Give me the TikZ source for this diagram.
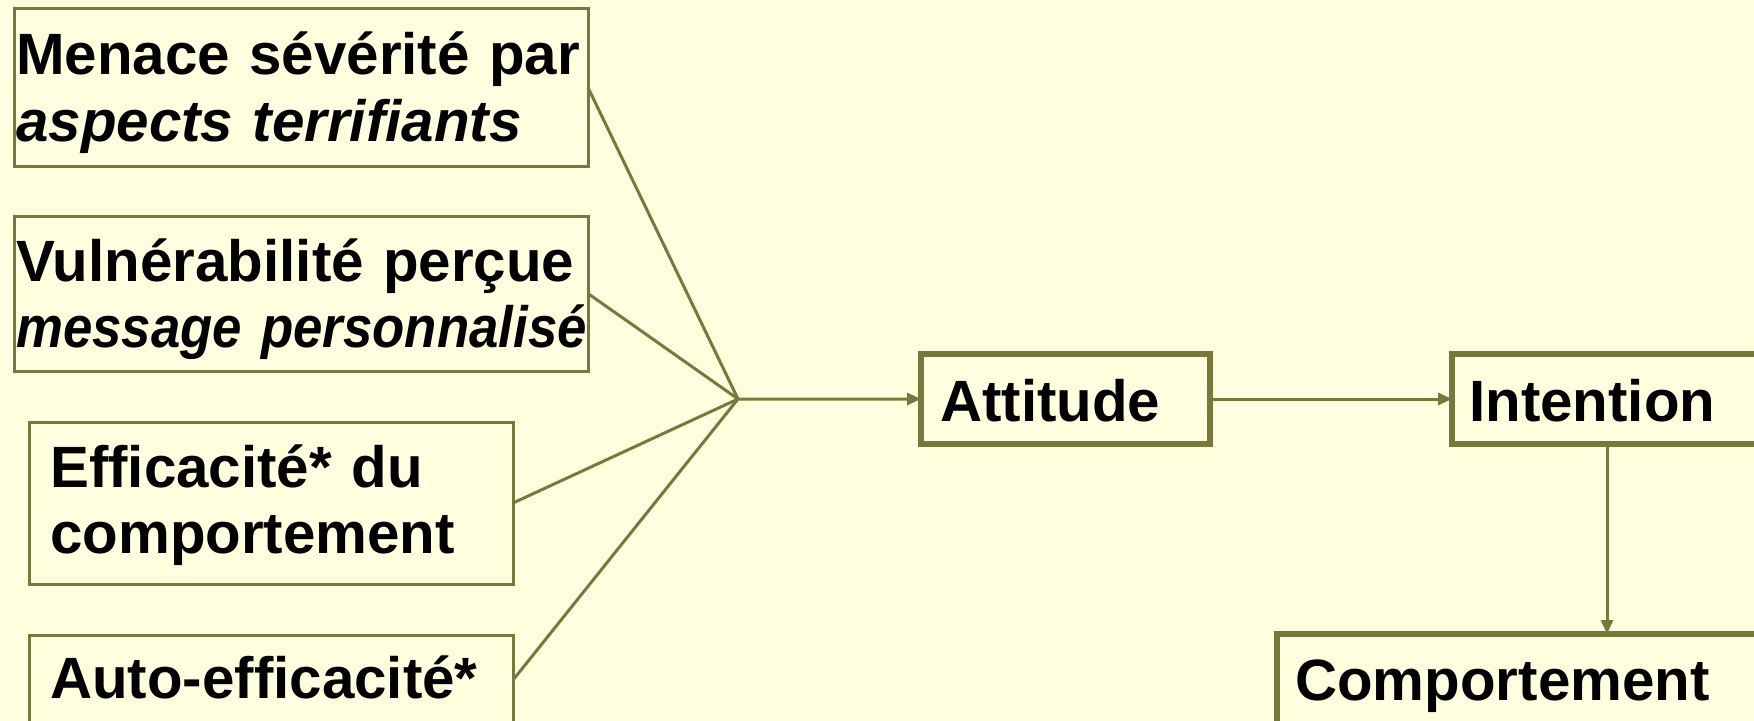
\documentclass[tikz,border=0pt]{standalone}
\usepackage{fontspec}
\setmainfont{Liberation Sans}
\usetikzlibrary{arrows.meta}
\definecolor{bg}{RGB}{255,255,224}
\definecolor{olive}{RGB}{120,120,60}
\tikzset{
  thinbox/.style={draw=olive, line width=3bp, rectangle, inner sep=0pt, outer sep=0pt, anchor=north west},
  thickbox/.style={draw=olive, line width=6bp, rectangle, inner sep=0pt, outer sep=0pt, anchor=north west},
  txt/.style={inner sep=0pt, anchor=base west, align=left, text width=700bp,
    font=\bfseries\fontsize{58.5}{67}\selectfont},
  conn/.style={draw=olive, line width=3bp},
  arr/.style={conn, -{Triangle[length=14bp,width=12bp]}}
}
\begin{document}
\begin{tikzpicture}[x=1bp,y=-1bp]
\fill[bg] (0,0) rectangle (1754,721);
\useasboundingbox (0,0) rectangle (1754,721);
\clip (0,0) rectangle (1754,721);
% left boxes
\node[thinbox, minimum width=574bp, minimum height=157bp] (menace) at (14,9) {};
\node[txt] (menaceT) at (16,75) {Menace sévérité par\\\textit{aspects terrifiants}};
\node[thinbox, minimum width=574bp, minimum height=155bp] (vuln) at (14,216) {};
\node[txt] (vulnT) at (16,281) {Vulnérabilité perçue\\{\addfontfeature{FakeStretch=0.905}\textit{message personnalisé}}};
\node[thinbox, minimum width=484bp, minimum height=162bp] (effic) at (29,422) {};
\node[txt] (efficT) at (50,487) {Efficacité* du\\comportement};
\node[thinbox, minimum width=484bp, minimum height=90bp] (auto) at (29,635) {};
\node[txt] (autoT) at (50,698) {Auto-efficacité*};
% junction
\coordinate (J) at (738,399);
% right boxes
\node[thickbox, minimum width=289bp, minimum height=90bp] (att) at (921,354) {};
\node[txt] (attT) at (940,421) {Attitude};
\node[thickbox, minimum width=310bp, minimum height=90bp] (int) at (1452,354) {};
\node[txt] (intT) at (1469,421) {Intention};
\node[thickbox, minimum width=660bp, minimum height=100bp] (comp) at (1277,634) {};
\node[txt] (compT) at (1295,700) {Comportement};
% connectors
\draw[conn] (menace.east) -- (J);
\draw[conn] (vuln.east) -- (J);
\draw[conn] (effic.east) -- (J);
\draw[conn] (auto.east) -- (J);
\draw[arr] (J) -- (att.west);
\draw[arr] (att.east) -- (int.west);
\draw[arr] (int.south) -- (int.south |- comp.north);
\end{tikzpicture}
\end{document}
